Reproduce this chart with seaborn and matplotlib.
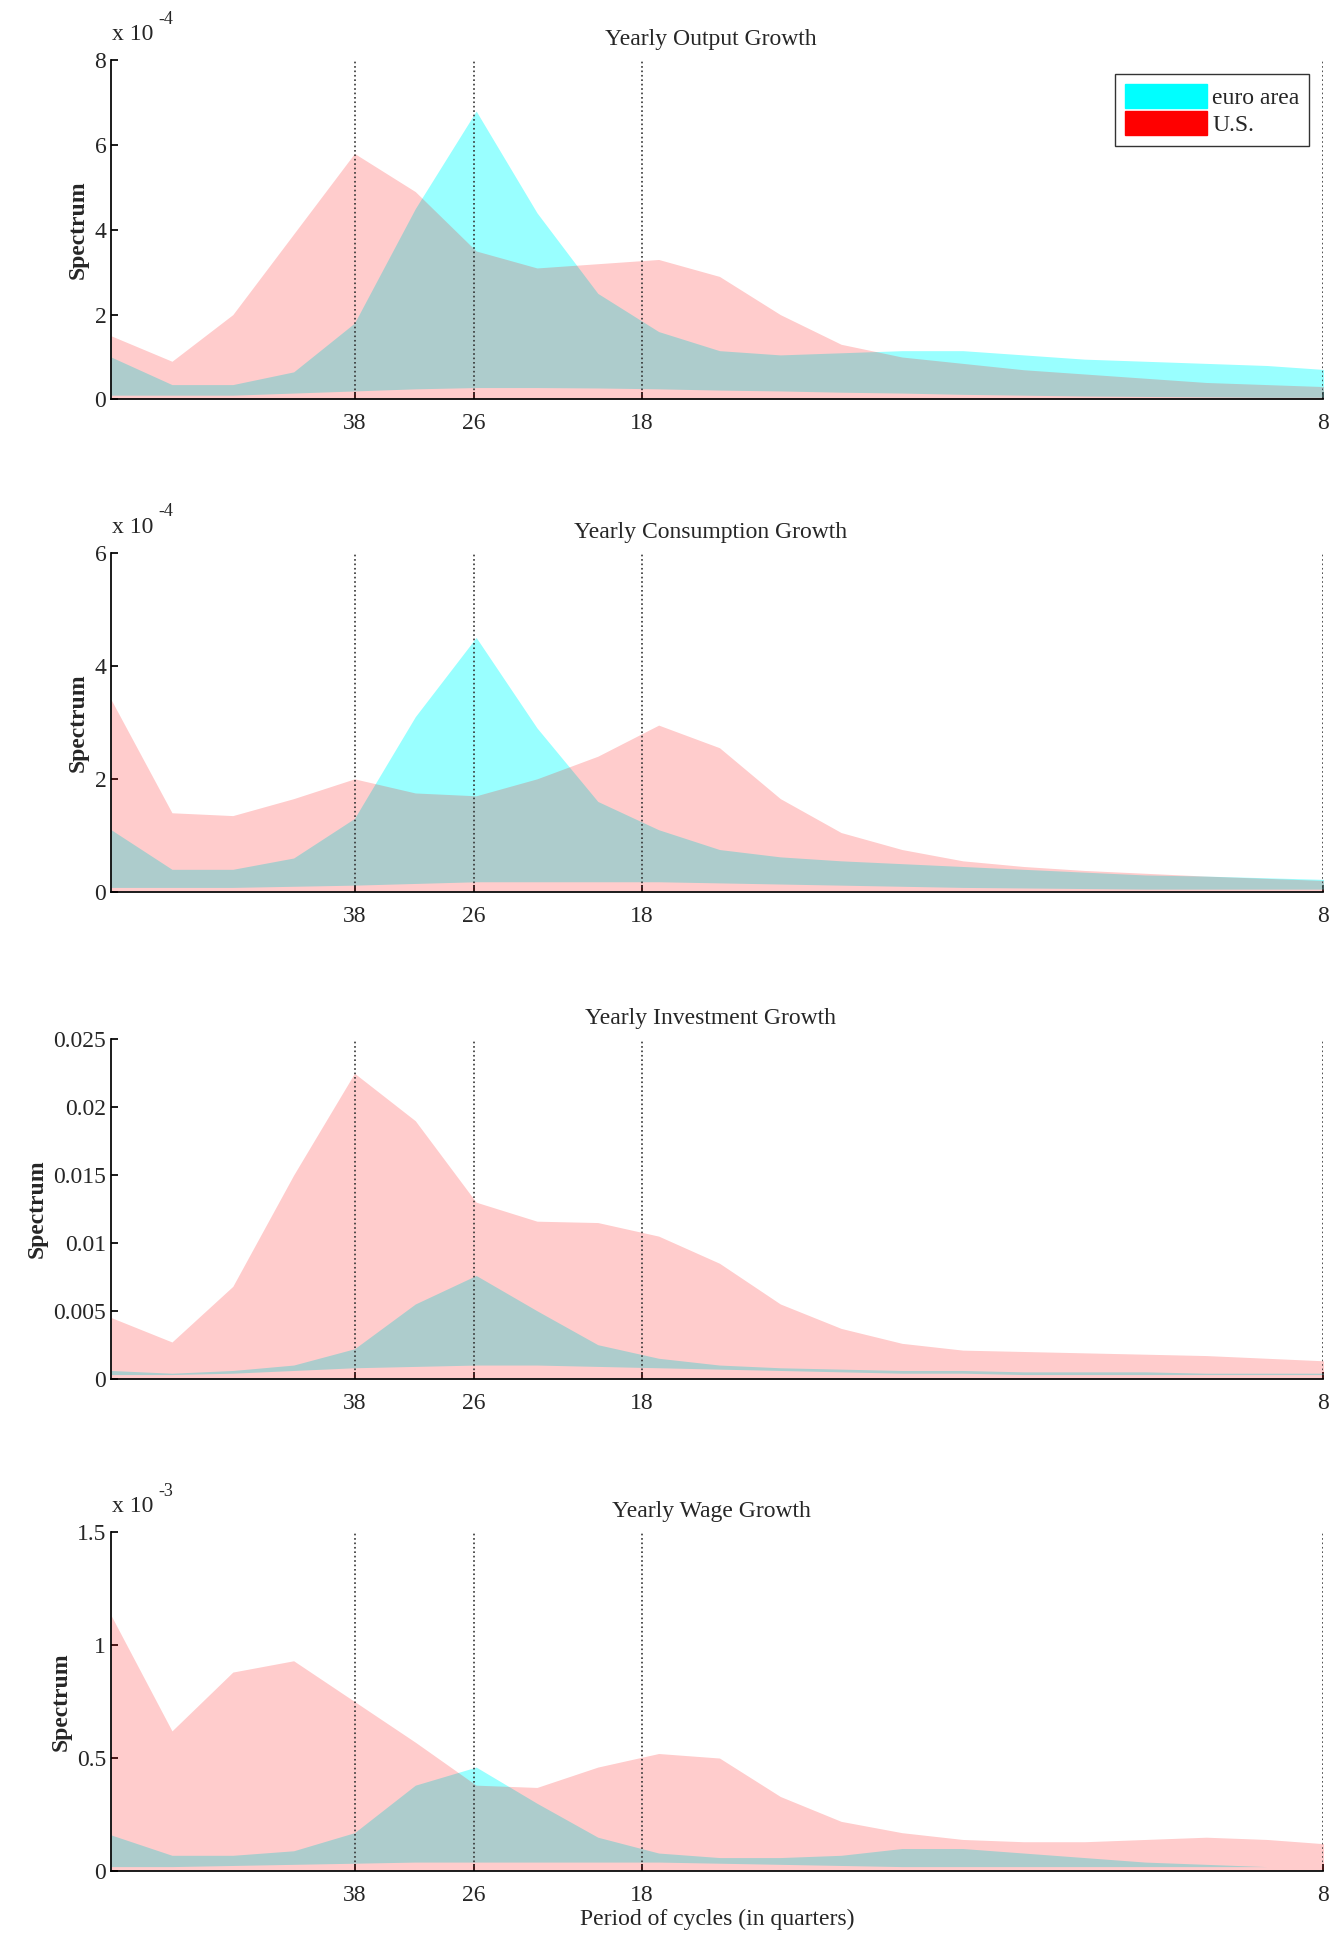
import numpy as np
import matplotlib
matplotlib.use('Agg')
import matplotlib.pyplot as plt
import matplotlib.patches as mpatches
import seaborn as sns

sns.set_theme(style="white")
plt.rcParams['font.family'] = ['Liberation Serif', 'DejaVu Serif']

# frequency grid (1/period); ticks at periods 38, 26, 18, 8
freq = [0.0015 + 0.0062 * i for i in range(21)]
tick_periods = [38, 26, 18, 8]

titles = ['Yearly Output Growth', 'Yearly Consumption Growth',
          'Yearly Investment Growth', 'Yearly Wage Growth']

# Output (x 1e-4)
out_us_hi = [1.5, 0.9, 2.0, 3.9, 5.8, 4.9, 3.5, 3.1, 3.2, 3.3, 2.9, 2.0, 1.3, 1.0, 0.85, 0.7, 0.6, 0.5, 0.4, 0.35, 0.3]
out_us_lo = [0.02] * 21
out_ea_hi = [1.0, 0.35, 0.35, 0.65, 1.8, 4.5, 6.8, 4.4, 2.5, 1.6, 1.15, 1.05, 1.1, 1.15, 1.15, 1.05, 0.95, 0.9, 0.85, 0.8, 0.7]
out_ea_lo = [0.1, 0.1, 0.1, 0.15, 0.2, 0.25, 0.28, 0.28, 0.27, 0.25, 0.22, 0.2, 0.17, 0.15, 0.12, 0.1, 0.08, 0.07, 0.06, 0.05, 0.05]

# Consumption (x 1e-4)
con_us_hi = [3.4, 1.4, 1.35, 1.65, 2.0, 1.75, 1.7, 2.0, 2.4, 2.95, 2.55, 1.65, 1.05, 0.75, 0.55, 0.45, 0.38, 0.33, 0.28, 0.24, 0.2]
con_us_lo = [0.02] * 21
con_ea_hi = [1.1, 0.4, 0.4, 0.6, 1.3, 3.1, 4.5, 2.9, 1.6, 1.1, 0.75, 0.62, 0.55, 0.5, 0.45, 0.4, 0.35, 0.3, 0.28, 0.25, 0.22]
con_ea_lo = [0.08, 0.08, 0.08, 0.1, 0.12, 0.15, 0.18, 0.18, 0.18, 0.18, 0.16, 0.14, 0.12, 0.1, 0.08, 0.07, 0.06, 0.05, 0.05, 0.05, 0.05]

# Investment
inv_us_hi = [0.0045, 0.0027, 0.0068, 0.015, 0.0225, 0.019, 0.013, 0.0116, 0.0115, 0.0105, 0.0085, 0.0055, 0.0037, 0.0026, 0.0021, 0.002, 0.0019, 0.0018, 0.0017, 0.0015, 0.0013]
inv_us_lo = [0.00005] * 21
inv_ea_hi = [0.0006, 0.0004, 0.0006, 0.001, 0.0022, 0.0055, 0.0076, 0.005, 0.0025, 0.0015, 0.001, 0.0008, 0.0007, 0.0006, 0.0006, 0.0005, 0.0005, 0.0005, 0.0004, 0.0004, 0.0004]
inv_ea_lo = [0.0003, 0.0003, 0.0004, 0.0006, 0.0008, 0.0009, 0.001, 0.001, 0.0009, 0.0008, 0.0007, 0.0006, 0.0005, 0.0004, 0.0004, 0.0003, 0.0003, 0.0003, 0.0003, 0.0003, 0.0003]

# Wage (x 1e-3)
wag_us_hi = [1.13, 0.62, 0.88, 0.93, 0.75, 0.57, 0.38, 0.37, 0.46, 0.52, 0.50, 0.33, 0.22, 0.17, 0.14, 0.13, 0.13, 0.14, 0.15, 0.14, 0.12]
wag_us_lo = [0.005] * 21
wag_ea_hi = [0.16, 0.07, 0.07, 0.09, 0.17, 0.38, 0.46, 0.3, 0.15, 0.08, 0.06, 0.06, 0.07, 0.1, 0.1, 0.08, 0.06, 0.04, 0.03, 0.02, 0.02]
wag_ea_lo = [0.02, 0.02, 0.025, 0.03, 0.035, 0.04, 0.04, 0.04, 0.04, 0.04, 0.035, 0.03, 0.025, 0.02, 0.02, 0.02, 0.02, 0.02, 0.02, 0.02, 0.02]

panels = [
    (out_ea_lo, out_ea_hi, out_us_lo, out_us_hi, 8, [0, 2, 4, 6, 8], ['0', '2', '4', '6', '8'], '-4'),
    (con_ea_lo, con_ea_hi, con_us_lo, con_us_hi, 6, [0, 2, 4, 6], ['0', '2', '4', '6'], '-4'),
    (inv_ea_lo, inv_ea_hi, inv_us_lo, inv_us_hi, 0.025, [0, 0.005, 0.01, 0.015, 0.02, 0.025],
     ['0', '0.005', '0.01', '0.015', '0.02', '0.025'], None),
    (wag_ea_lo, wag_ea_hi, wag_us_lo, wag_us_hi, 1.5, [0, 0.5, 1, 1.5], ['0', '0.5', '1', '1.5'], '-3'),
]

fig = plt.figure(figsize=(13.39, 19.39), dpi=100)
tops = [0.969, 0.715, 0.464, 0.210]
h = 0.175
for k, (ea_lo, ea_hi, us_lo, us_hi, ymax, yt, ytl, expo) in enumerate(panels):
    ax = fig.add_axes([0.083, tops[k] - h, 0.905, h])
    ax.fill_between(freq, ea_lo, ea_hi, color='cyan', alpha=0.4, linewidth=0)
    ax.fill_between(freq, us_lo, us_hi, color='red', alpha=0.2, linewidth=0)
    for p in tick_periods:
        ax.axvline(1 / p, color='#333333', linestyle=':', linewidth=1.2)
    ax.set_xlim(freq[0], 0.125)
    ax.set_ylim(0, ymax)
    ax.set_xticks([1 / p for p in tick_periods])
    ax.set_xticklabels([str(p) for p in tick_periods])
    ax.set_yticks(yt)
    ax.set_yticklabels(ytl)
    ax.tick_params(direction='in', labelsize=17, length=5, color='black', left=True, bottom=True)
    ax.tick_params(axis='x', pad=10)
    ax.spines['top'].set_visible(False)
    ax.spines['right'].set_visible(False)
    for s in ['left', 'bottom']:
        ax.spines[s].set_color('black')
    ax.set_ylabel('Spectrum', fontsize=17, fontweight='bold')
    ax.text(0.495, 1.06, titles[k], transform=ax.transAxes, ha='center', va='center', fontsize=17)
    if expo:
        ax.text(0.018, 1.075, 'x 10', transform=ax.transAxes, ha='center', va='center', fontsize=17)
        ax.text(0.045, 1.12, expo, transform=ax.transAxes, ha='center', va='center', fontsize=13)
    if k == 0:
        handles = [mpatches.Patch(color='cyan', label='euro area'),
                   mpatches.Patch(color='red', label='U.S.')]
        leg = ax.legend(handles=handles, loc='upper right', fontsize=17, frameon=True,
                        fancybox=False, edgecolor='black', handlelength=3.5, handleheight=1.2,
                        handletextpad=0.2, labelspacing=0.1, borderaxespad=0.6)
        leg.get_frame().set_linewidth(1)
    if k == 3:
        ax.set_xlabel('Period of cycles (in quarters)', fontsize=17, labelpad=2)

fig.savefig('out.png', dpi=100, facecolor='white')
